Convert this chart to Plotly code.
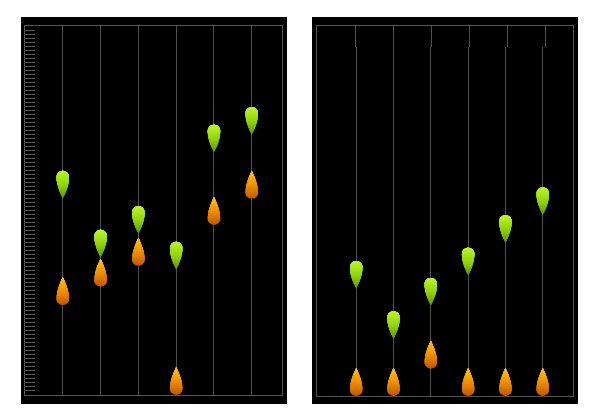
import math
import plotly.graph_objects as go

# ---------------- data ----------------
categories = [0, 1, 2, 3, 4, 5]
left_high = [48.9, 34.2, 40.1, 31.2, 60.4, 64.8]    # green drops (tip = value)
left_low = [22.4, 27.0, 32.2, 0.0, 42.4, 48.9]      # orange drops (base = value)
right_high = [26.6, 14.1, 22.4, 29.9, 38.0, 44.9]
right_low = [0.0, 0.0, 6.8, 0.0, 0.0, 0.0]

W, H = 600, 420
GRID = "#505050"
LINE = "#555555"


def px(v):
    return v / W


def py(v):
    return 1 - v / H


# ---------------- droplet symbol (pixel units) ----------------
R = 6.2      # radius of round end
L = 28.0     # total length


def halfwidth(h):
    """half width at height h measured from the round end."""
    if h <= R:
        return math.sqrt(max(R * R - (h - R) ** 2, 0.0))
    t = (h - R) / (L - R)
    return R * math.cos(t * math.pi / 2)


def drop_band_path(y0, pointing_up):
    """outline of the part of the droplet with y >= y0 (y measured upward
    from the anchor at the bottom of the symbol)."""
    n = 40
    ys = [y0 + (L - y0) * i / n for i in range(n + 1)]
    pts_r = []
    for y in ys:
        h = y if pointing_up else (L - y)
        pts_r.append((halfwidth(h), y))
    pts_l = [(-xx, yy) for xx, yy in reversed(pts_r)]
    pts = pts_r + pts_l
    s = "M{:.2f},{:.2f}".format(*pts[0])
    for xx, yy in pts[1:]:
        s += " L{:.2f},{:.2f}".format(xx, yy)
    return s + " Z"


def lerp_color(stops, t):
    for i in range(len(stops) - 1):
        t0, c0 = stops[i]
        t1, c1 = stops[i + 1]
        if t <= t1:
            f = (t - t0) / (t1 - t0) if t1 > t0 else 0
            c = [round(c0[k] + (c1[k] - c0[k]) * f) for k in range(3)]
            return "rgb({},{},{})".format(*c)
    c = stops[-1][1]
    return "rgb({},{},{})".format(*c)


ORANGE = [(0.0, (188, 86, 0)), (0.45, (236, 138, 0)), (1.0, (255, 198, 20))]
GREEN = [(0.0, (90, 146, 0)), (0.5, (146, 212, 14)), (1.0, (186, 244, 46))]

NBANDS = 12


def droplet_shapes(xs, ys, xref, yref, pointing_up, stops):
    shapes = []
    for xv, yv in zip(xs, ys):
        for k in range(NBANDS):
            y0 = L * k / NBANDS
            col = lerp_color(stops, (k + 0.5) / NBANDS)
            shapes.append(dict(
                type="path", xref=xref, yref=yref,
                xsizemode="pixel", ysizemode="pixel",
                xanchor=xv, yanchor=yv,
                path=drop_band_path(y0, pointing_up),
                fillcolor=col, line=dict(width=0), layer="above",
            ))
    return shapes


fig = go.Figure()

# hover-able (invisible) traces carrying the data
for xs, ys, xa, ya, name in [
    (categories, left_high, "x", "y", "high"),
    (categories, left_low, "x", "y", "low"),
    (categories, right_high, "x2", "y2", "high"),
    (categories, right_low, "x2", "y2", "low"),
]:
    fig.add_trace(go.Scatter(x=xs, y=ys, xaxis=xa, yaxis=ya, mode="markers",
                             marker=dict(size=12, opacity=0), name=name,
                             showlegend=False))

for xa, ya in [("x3", "y3"), ("x4", "y4")]:
    fig.add_trace(go.Scatter(x=[None], y=[None], xaxis=xa, yaxis=ya,
                             showlegend=False, hoverinfo="skip"))

shapes = [
    dict(type="rect", xref="paper", yref="paper", x0=px(21), x1=px(287),
         y0=py(404), y1=py(17), fillcolor="black", line=dict(width=0),
         layer="below"),
    dict(type="rect", xref="paper", yref="paper", x0=px(312), x1=px(578),
         y0=py(404), y1=py(17), fillcolor="black", line=dict(width=0),
         layer="below"),
]
shapes += droplet_shapes(categories, left_low, "x", "y", True, ORANGE)
shapes += droplet_shapes(categories, left_high, "x", "y", False, GREEN)
shapes += droplet_shapes(categories, right_low, "x2", "y2", True, ORANGE)
shapes += droplet_shapes(categories, right_high, "x2", "y2", False, GREEN)

common_x = dict(tickmode="array", tickvals=categories, showticklabels=False,
                ticks="", zeroline=False, gridcolor=GRID, gridwidth=1,
                fixedrange=True)
common_y = dict(range=[0, 92], tick0=0, dtick=1, ticks="inside", ticklen=10,
                tickwidth=1, tickcolor=LINE, showticklabels=False,
                showgrid=False, zeroline=False, showline=True, mirror=True,
                linecolor=LINE, linewidth=1, fixedrange=True)

fig.update_layout(
    width=W, height=H, autosize=False,
    margin=dict(l=0, r=0, t=0, b=0, pad=0),
    paper_bgcolor="white", plot_bgcolor="black",
    showlegend=False,
    xaxis=dict(domain=[px(25), px(282)], anchor="y", range=[-1.0, 5.8],
               showgrid=True, showline=True, mirror=True, linecolor=LINE,
               linewidth=1, **common_x),
    yaxis=dict(domain=[py(395), py(26)], anchor="x", **common_y),
    xaxis2=dict(domain=[px(317), px(573)], anchor="y2", range=[-1.05, 5.81],
                showgrid=False, showline=True, mirror=True, linecolor=LINE,
                linewidth=1, **common_x),
    yaxis2=dict(domain=[py(396), py(26)], anchor="x2", **common_y),
    xaxis3=dict(domain=[px(317), px(573)], anchor="y3", range=[-1.021, 5.734],
                showgrid=True, showline=False, **common_x),
    yaxis3=dict(domain=[py(47), py(26)], anchor="x3", range=[0, 1],
                showgrid=False, zeroline=False, showticklabels=False,
                ticks="", showline=False, fixedrange=True),
    xaxis4=dict(domain=[px(317), px(573)], anchor="y4", range=[-1.05, 5.81],
                showgrid=True, showline=False, **common_x),
    yaxis4=dict(domain=[py(396), py(47)], anchor="x4", range=[0, 1],
                showgrid=False, zeroline=False, showticklabels=False,
                ticks="", showline=False, fixedrange=True),
    shapes=shapes,
)

fig.write_html(
    "out.html",
    config={"displayModeBar": False},
    post_script="document.body.style.margin='0';"
                "document.body.style.overflow='hidden';",
)
